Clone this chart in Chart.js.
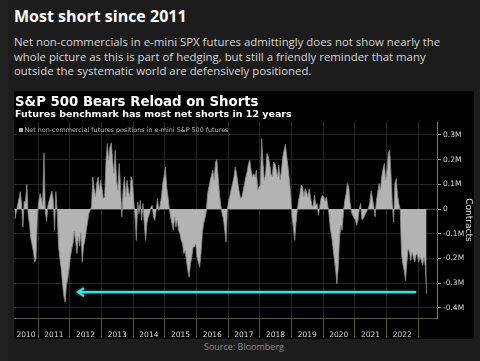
<!DOCTYPE html>
<html>
<head>
<meta charset="utf-8">
<script src="https://cdn.jsdelivr.net/npm/chart.js@4.4.0/dist/chart.umd.min.js"></script>
<style>
body{margin:0;background:#1c1c1c;width:480px;height:361px;overflow:hidden;position:relative;font-family:'Open Sans',sans-serif}
#stripe{position:absolute;left:0;top:0;width:8px;height:361px;background:#232323}
#head{position:absolute;left:14px;top:5px;font-size:16px;font-weight:700;color:#fff;line-height:22px;white-space:nowrap}
#para{position:absolute;left:14px;top:35px;font-size:11.4px;color:#d4d4d4;line-height:14.6px;white-space:nowrap}
#panel{position:absolute;left:14px;top:91px;width:460px;height:248px;background:#000;border-radius:3px}
#ctitle{position:absolute;left:1px;top:2px;font-family:'DejaVu Sans';font-weight:bold;font-size:13.3px;color:#fff;line-height:17px;white-space:nowrap}
#csub{position:absolute;left:1px;top:17px;font-family:'DejaVu Sans';font-weight:bold;font-size:9.5px;color:#fff;line-height:12px;white-space:nowrap}
#legend{position:absolute;left:5px;top:34px;font-family:'DejaVu Sans';font-size:6.4px;color:#bdbdbd;line-height:10px;white-space:nowrap}
#legend span{display:inline-block;width:4px;height:4px;background:#b3b3b3;margin-right:1.5px;vertical-align:0px}
#src{position:absolute;left:14px;width:460px;top:340px;text-align:center;font-size:9px;color:#8a8a8a;line-height:14px}
canvas{position:absolute;left:0;top:0}
</style>
</head>
<body>
<div id="stripe"></div>
<div id="head">Most short since 2011</div>
<div id="para">Net non-commercials in e-mini SPX futures admittingly does not show nearly the<br>whole picture as this is part of hedging, but still a friendly reminder that many<br>outside the systematic world are defensively positioned.</div>
<div id="panel">
  <canvas id="myChart" width="460" height="248"></canvas>
  <div id="ctitle">S&amp;P 500 Bears Reload on Shorts</div>
  <div id="csub">Futures benchmark has most net shorts in 12 years</div>
  <div id="legend"><span></span>Net non-commercial futures positions in e-mini S&amp;P 500 futures</div>
</div>
<div id="src">Source: Bloomberg</div>
<script>
// net positions, thousands of contracts, two readings per month
var slotsPerYear=24
var firstSlot2010=6
var y2010=[-40,-12,15,40,70,20,-73,30,28,100,-25,-60,-120,-145,-175,-215,-200,-30]
var y2011=[28,62,42,15,227,-12,-50,15,35,55,72,35,-86,70,-12,-150,-200,-240,-300,-350,-377,-310,-280,-240]
var y2012=[-195,-160,-140,-90,-130,-180,-110,-150,-95,-215,-150,-125,-90,-55,-19,-5,8,130,82,49,103,130,76,116]
var y2013=[82,42,49,197,265,197,251,268,197,143,238,116,76,184,89,-32,76,130,49,116,76,49,130,116]
var y2014=[40,-32,-127,28,-19,35,-46,22,-59,-127,-59,-32,-19,8,15,-32,-46,-5,42,-5,15,49,103,130]
var y2015=[170,89,49,0,-32,-59,-86,-32,-73,-46,-86,-100,-127,-140,-181,-168,-208,-248,-276,-222,-195,-154,-154,-140]
var y2016=[-195,-215,-235,-181,-100,-59,-39,-12,62,89,116,136,157,116,190,200,130,62,15,-19,-39,-86,-134,0]
var y2017=[35,55,82,103,130,170,143,103,69,42,49,76,103,130,150,184,197,157,130,143,130,157,76,89]
var y2018=[96,285,184,116,143,224,213,184,143,130,190,184,163,130,177,116,157,211,238,262,211,170,116,62]
var y2019=[-32,-73,-127,-59,-5,35,62,96,89,49,82,69,49,82,49,15,10,55,15,22,-26,8,42,55]
var y2020=[49,31,49,19,-19,-80,-107,-154,-201,-242,-303,-240,-120,-66,-86,-12,35,62,103,89,28,-12,-26,-35]
var y2021=[-43,-66,-46,1,22,-43,-39,-26,-16,-5,5,28,73,42,10,-32,35,69,103,76,130,163,184,116]
var y2022=[157,227,238,143,22,-53,103,123,55,22,-5,-181,-222,-248,-289,-222,-161,-174,-208,-174,-195,-215,-188,-181]
var y2023=[-215,-195,-208,-228,-195,-230,-343]

var years=[2010,2011,2012,2013,2014,2015,2016,2017,2018,2019,2020,2021,2022,2023]
var yearValues=[y2010,y2011,y2012,y2013,y2014,y2015,y2016,y2017,y2018,y2019,y2020,y2021,y2022,y2023]
var labelYears=[2010,2011,2012,2013,2014,2015,2016,2017,2018,2019,2020,2021,2022]
var yTicks=[-400,-300,-200,-100,0,100,200,300]
var xMin=2010.24, xMax=2023.6
var yMin=-441, yMax=352
var arrowSpan=[2012.26,2022.94]
var arrowLevel=-336

var points=[]
for(var n=0;n<years.length;n++){
    var first=n===0?firstSlot2010:0
    for(var i=0;i<yearValues[n].length;i++){
        points.push({x:years[n]+(first+i+0.5)/slotsPerYear,y:yearValues[n][i]})
    }
}

var arrowPlugin={
    id:'arrow',
    afterDatasetsDraw:function(chart){
        var ctx=chart.ctx
        var x1=chart.scales.x.getPixelForValue(arrowSpan[0])
        var x2=chart.scales.x.getPixelForValue(arrowSpan[1])
        var y=chart.scales.y.getPixelForValue(arrowLevel)
        ctx.save()
        ctx.strokeStyle='#48dcd8'
        ctx.lineWidth=2.2
        ctx.shadowColor='rgba(72,220,216,0.7)'
        ctx.shadowBlur=3
        ctx.beginPath()
        ctx.moveTo(x2,y)
        ctx.lineTo(x1,y)
        ctx.stroke()
        ctx.beginPath()
        ctx.moveTo(x1+6,y-4)
        ctx.lineTo(x1,y)
        ctx.lineTo(x1+6,y+4)
        ctx.stroke()
        ctx.restore()
    }
}

var tickFont={family:'DejaVu Sans',size:7.5}

var chart=new Chart(document.getElementById('myChart').getContext('2d'),{
    type:'line',
    data:{
        datasets:[{
            label:'Net non-commercial futures positions in e-mini S&P 500 futures',
            data:points,
            fill:'origin',
            backgroundColor:'#b3b3b3',
            borderColor:'#8a8a8a',
            borderWidth:0.8,
            pointRadius:0,
            tension:0
        }]
    },
    options:{
        responsive:false,
        animation:false,
        devicePixelRatio:1,
        layout:{padding:{top:31,left:0,right:0,bottom:0}},
        plugins:{
            tooltip:{enabled:false},
            legend:{display:false}
        },
        scales:{
            x:{
                type:'linear',
                min:xMin,
                max:xMax,
                afterBuildTicks:function(scale){
                    var t=[]
                    for(var k=0;k<labelYears.length;k++){
                        var lo=Math.max(labelYears[k],xMin)
                        t.push({value:(lo+labelYears[k]+1)/2})
                        t.push({value:labelYears[k]+1})
                    }
                    scale.ticks=t
                },
                afterFit:function(scale){scale.height=21},
                ticks:{
                    autoSkip:false,
                    maxRotation:0,
                    color:'#d8d8d8',
                    font:tickFont,
                    padding:-7,
                    callback:function(v){return Number.isInteger(v)?'':String(Math.floor(v))}
                },
                grid:{
                    tickLength:20,
                    color:function(c){return c.tick&&Number.isInteger(c.tick.value)?'#262626':'rgba(0,0,0,0)'},
                    tickColor:function(c){return c.tick&&Number.isInteger(c.tick.value)?'#57572f':'rgba(0,0,0,0)'}
                },
                border:{color:'#57572f'}
            },
            y:{
                position:'right',
                min:yMin,
                max:yMax,
                afterBuildTicks:function(scale){
                    scale.ticks=yTicks.map(function(v){return {value:v}})
                },
                afterFit:function(scale){scale.width=37},
                ticks:{
                    color:'#d8d8d8',
                    font:tickFont,
                    padding:2,
                    callback:function(v){return v===0?'0':(v/1000)+'M'}
                },
                grid:{
                    tickLength:4,
                    color:function(c){return c.tick&&c.tick.value===0?'#4a4a4a':'#262626'},
                    tickColor:'#9a9a9a'
                },
                border:{color:'#777'},
                title:{display:true,text:'Contracts',color:'#dcdcdc',font:{family:'DejaVu Sans',size:9},padding:0}
            }
        }
    },
    plugins:[arrowPlugin]
})
</script>
</body>
</html>
